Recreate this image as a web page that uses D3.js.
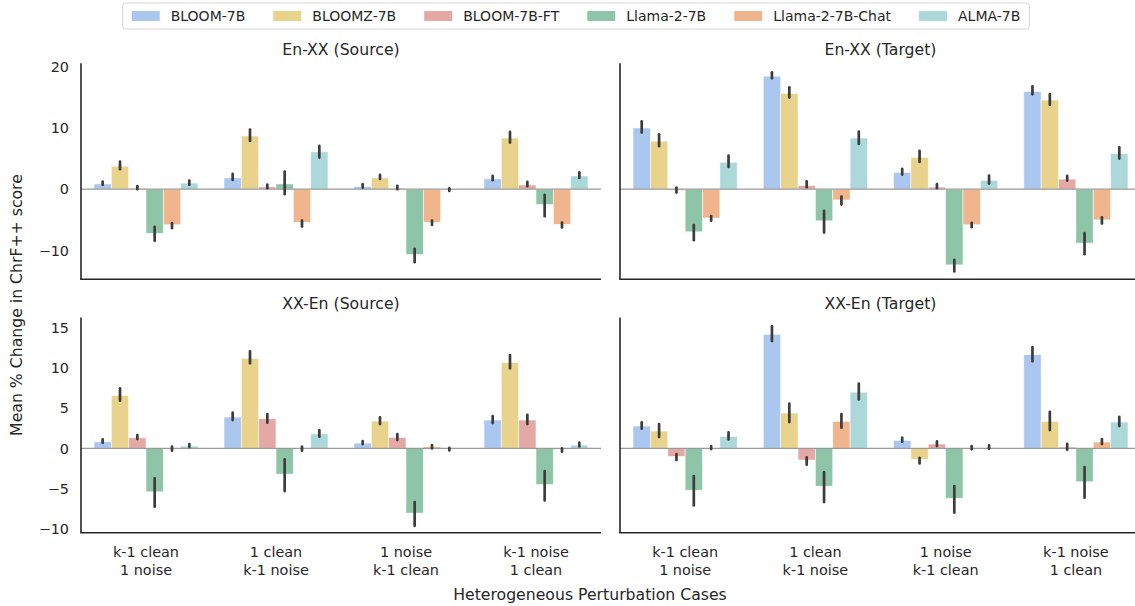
<!DOCTYPE html>
<html>
<head>
<meta charset="utf-8">
<script src="https://cdn.jsdelivr.net/npm/d3@7"></script>
<style>
  body { margin: 0; background: #fff; }
  svg { display: block; font-family: "DejaVu Sans", sans-serif; }
</style>
</head>
<body>
<svg id="chart" width="1135" height="606"></svg>
<script>
// ---------------- DATA ----------------
const models = ["BLOOM-7B", "BLOOMZ-7B", "BLOOM-7B-FT", "Llama-2-7B", "Llama-2-7B-Chat", "ALMA-7B"];
const colors = ["#abc6ef", "#e9d28b", "#e5a9a5", "#8ec5a8", "#f0b58d", "#acd8da"];
const cases = ["k-1 clean|1 noise", "1 clean|k-1 noise", "1 noise|k-1 clean", "k-1 noise|1 clean"];
const panelTitles = ["En-XX (Source)", "En-XX (Target)", "XX-En (Source)", "XX-En (Target)"];
const topTicks = [-10, 0, 10, 20];
const bottomTicks = [-10, -5, 0, 5, 10, 15];
const topDomain = [-14.7, 20.55];
const bottomDomain = [-10.5, 16.3];

// values[model][case]
const enxxSourceMean = [
  [0.87, 1.85, 0.45, 1.7],
  [3.75, 8.7, 1.85, 8.35],
  [0.15, 0.4, 0.15, 0.7],
  [-7.2, 0.87, -10.65, -2.5],
  [-5.8, -5.4, -5.4, -5.75],
  [1.0, 6.1, -0.05, 2.17]
];
const enxxSourceLo = [
  [0.71, 1.52, 0.27, 1.47],
  [3.26, 7.88, 1.68, 7.61],
  [0.0, 0.16, 0.0, 0.49],
  [-8.42, -0.82, -11.9, -4.4],
  [-6.36, -6.09, -5.82, -6.25],
  [0.71, 5.16, -0.27, 1.85]
];
const enxxSourceHi = [
  [1.25, 2.5, 0.82, 2.17],
  [4.5, 9.73, 2.34, 9.35],
  [0.49, 0.76, 0.54, 1.2],
  [-6.14, 2.88, -9.73, -0.92],
  [-5.54, -5.11, -5.11, -5.43],
  [1.41, 7.07, 0.16, 2.77]
];

const enxxTargetMean = [
  [10.0, 18.45, 2.75, 15.95],
  [7.85, 15.65, 5.2, 14.55],
  [-0.2, 0.6, 0.35, 1.65],
  [-6.95, -5.15, -12.35, -8.8],
  [-4.7, -1.75, -5.8, -5.0],
  [4.4, 8.35, 1.45, 5.8]
];
const enxxTargetLo = [
  [9.24, 18.1, 2.39, 15.49],
  [7.01, 14.95, 4.46, 13.8],
  [-0.54, 0.33, 0.16, 1.41],
  [-8.32, -7.07, -13.42, -10.6],
  [-5.16, -2.5, -6.2, -5.6],
  [3.64, 7.39, 0.92, 5.0]
];
const enxxTargetHi = [
  [11.09, 19.08, 3.32, 16.8],
  [8.97, 16.63, 6.25, 15.54],
  [0.27, 1.3, 0.82, 2.17],
  [-5.87, -3.53, -11.52, -7.17],
  [-4.4, -1.2, -5.49, -4.57],
  [5.49, 9.4, 2.23, 6.85]
];

const xxenSourceMean = [
  [0.83, 3.9, 0.66, 3.53],
  [6.6, 11.2, 3.4, 10.7],
  [1.33, 3.7, 1.37, 3.53],
  [-5.4, -3.2, -8.05, -4.5],
  [-0.08, -0.05, 0.2, -0.1],
  [0.29, 1.8, -0.05, 0.41]
];
const xxenSourceLo = [
  [0.7, 3.53, 0.54, 3.15],
  [5.93, 10.58, 3.03, 9.96],
  [1.16, 3.2, 1.04, 3.03],
  [-7.26, -5.31, -9.63, -6.47],
  [-0.29, -0.29, 0.0, -0.41],
  [0.17, 1.45, -0.25, 0.25]
];
const xxenSourceHi = [
  [1.12, 4.44, 0.91, 4.02],
  [7.47, 12.07, 3.86, 11.62],
  [1.66, 4.27, 1.78, 4.19],
  [-3.73, -1.37, -6.68, -2.82],
  [0.21, 0.21, 0.41, 0.0],
  [0.54, 2.28, 0.08, 0.71]
];

const xxenTargetMean = [
  [2.78, 14.2, 1.0, 11.66],
  [2.16, 4.4, -1.37, 3.36],
  [-1.0, -1.45, 0.54, 0.17],
  [-5.2, -4.7, -6.2, -4.15],
  [0.05, 3.36, 0.05, 0.79],
  [1.5, 7.0, 0.1, 3.28]
];
const xxenTargetLo = [
  [2.45, 13.36, 0.83, 10.83],
  [1.41, 3.28, -1.87, 2.28],
  [-1.45, -2.03, 0.29, -0.17],
  [-7.1, -6.68, -8.0, -6.14],
  [-0.08, 2.57, -0.12, 0.54],
  [1.12, 6.1, -0.04, 2.78]
];
const xxenTargetHi = [
  [3.24, 15.19, 1.33, 12.61],
  [3.03, 5.56, -1.16, 4.56],
  [-0.71, -1.12, 0.87, 0.58],
  [-3.44, -2.95, -4.69, -2.32],
  [0.29, 4.27, 0.29, 1.16],
  [1.99, 8.05, 0.37, 3.94]
];

// ---------------- LAYOUT ----------------
const svg = d3.select("#chart");
const textColor = "#262626";
const TICK_FS = 14.4;
const LABEL_FS = 15.7;
const LEGEND_FS = 14;

const panels = [
  { title: panelTitles[0], mean: enxxSourceMean, lo: enxxSourceLo, hi: enxxSourceHi, x0: 81, x1: 601, y0: 63.3, y1: 279.3, domain: topDomain, ticks: topTicks, left: true, bottom: false },
  { title: panelTitles[1], mean: enxxTargetMean, lo: enxxTargetLo, hi: enxxTargetHi, x0: 620, x1: 1141, y0: 63.3, y1: 279.3, domain: topDomain, ticks: topTicks, left: false, bottom: false },
  { title: panelTitles[2], mean: xxenSourceMean, lo: xxenSourceLo, hi: xxenSourceHi, x0: 81, x1: 601, y0: 317.4, y1: 532.8, domain: bottomDomain, ticks: bottomTicks, left: true, bottom: true },
  { title: panelTitles[3], mean: xxenTargetMean, lo: xxenTargetLo, hi: xxenTargetHi, x0: 620, x1: 1141, y0: 317.4, y1: 532.8, domain: bottomDomain, ticks: bottomTicks, left: false, bottom: true }
];

panels.forEach(p => {
  const g = svg.append("g");
  const x = d3.scaleBand().domain(cases).range([p.x0, p.x1]).paddingInner(0.2).paddingOuter(0.1);
  const xm = d3.scaleBand().domain(models).range([0, x.bandwidth()]);
  const y = d3.scaleLinear().domain(p.domain).range([p.y1, p.y0]);

  // bars
  models.forEach((m, mi) => {
    cases.forEach((c, ci) => {
      const v = p.mean[mi][ci];
      g.append("rect")
        .attr("x", x(c) + xm(m))
        .attr("width", xm.bandwidth())
        .attr("y", Math.min(y(v), y(0)))
        .attr("height", Math.abs(y(v) - y(0)))
        .attr("fill", colors[mi])
        .attr("stroke", "#ffffff")
        .attr("stroke-opacity", 0.7)
        .attr("stroke-width", 0.8);
    });
  });

  // zero line
  g.append("line")
    .attr("x1", p.x0).attr("x2", p.x1)
    .attr("y1", y(0)).attr("y2", y(0))
    .attr("stroke", "#9a9a9a").attr("stroke-width", 1.3);

  // error bars
  models.forEach((m, mi) => {
    cases.forEach((c, ci) => {
      const cx = x(c) + xm(m) + xm.bandwidth() / 2;
      g.append("line")
        .attr("x1", cx).attr("x2", cx)
        .attr("y1", y(p.lo[mi][ci])).attr("y2", y(p.hi[mi][ci]))
        .attr("stroke", "#3c3c3c")
        .attr("stroke-width", 2.7)
        .attr("stroke-linecap", "round");
    });
  });

  // spines
  g.append("line").attr("x1", p.x0).attr("x2", p.x0).attr("y1", p.y0).attr("y2", p.y1)
    .attr("stroke", "#262626").attr("stroke-width", 1.6);
  g.append("line").attr("x1", p.x0 - 0.8).attr("x2", p.x1).attr("y1", p.y1).attr("y2", p.y1)
    .attr("stroke", "#262626").attr("stroke-width", 1.6);

  // title
  g.append("text")
    .attr("x", (p.x0 + p.x1) / 2)
    .attr("y", p.y0 - 8)
    .attr("text-anchor", "middle")
    .attr("font-size", LABEL_FS)
    .attr("fill", textColor)
    .text(p.title);

  // y tick labels
  if (p.left) {
    const yAxis = d3.axisLeft(y).tickValues(p.ticks).tickSize(0).tickPadding(12)
      .tickFormat(d => d < 0 ? "\u2212" + Math.abs(d) : String(d));
    const ga = g.append("g").attr("transform", `translate(${p.x0},0)`).call(yAxis);
    ga.select(".domain").remove();
    ga.selectAll("text").attr("font-size", TICK_FS).attr("fill", textColor)
      .attr("font-family", "DejaVu Sans, sans-serif");
  }

  // x tick labels
  if (p.bottom) {
    const xAxis = d3.axisBottom(x).tickSize(0).tickFormat("");
    const gx = g.append("g").attr("transform", `translate(0,${p.y1})`).call(xAxis);
    gx.select(".domain").remove();
    gx.selectAll(".tick").each(function(d) {
      const parts = d.split("|");
      const t = d3.select(this).append("text")
        .attr("text-anchor", "middle")
        .attr("font-size", TICK_FS)
        .attr("fill", textColor)
        .attr("font-family", "DejaVu Sans, sans-serif");
      parts.forEach((s, i) => {
        t.append("tspan").attr("x", 0).attr("y", 24 + i * 18).text(s);
      });
    });
  }
});

// axis labels
svg.append("text")
  .attr("x", 590).attr("y", 600)
  .attr("text-anchor", "middle")
  .attr("font-size", LABEL_FS).attr("fill", textColor)
  .text("Heterogeneous Perturbation Cases");

svg.append("text")
  .attr("transform", "translate(22,305) rotate(-90)")
  .attr("text-anchor", "middle")
  .attr("font-size", LABEL_FS).attr("fill", textColor)
  .text("Mean % Change in ChrF++ score");

// legend
const lg = svg.append("g");
const lbox = lg.append("rect")
  .attr("y", 3).attr("height", 26).attr("rx", 3)
  .attr("fill", "#ffffff").attr("fill-opacity", 0.8)
  .attr("stroke", "#d6d6d6").attr("stroke-width", 1);
let cx = 0;
const items = [];
models.forEach((m, i) => {
  const it = lg.append("g");
  it.append("rect").attr("x", cx).attr("y", 11).attr("width", 28).attr("height", 10).attr("fill", colors[i]);
  const t = it.append("text").attr("x", cx + 39).attr("y", 21).attr("font-size", LEGEND_FS).attr("fill", textColor).text(m);
  const w = t.node().getComputedTextLength();
  cx += 39 + w + 28;
  items.push(it);
});
const contentW = cx - 28;
const boxW = contentW + 18;
const boxX = 576 - boxW / 2;
lbox.attr("x", boxX).attr("width", boxW);
items.forEach(it => it.attr("transform", `translate(${boxX + 9},0)`));
</script>
</body>
</html>
